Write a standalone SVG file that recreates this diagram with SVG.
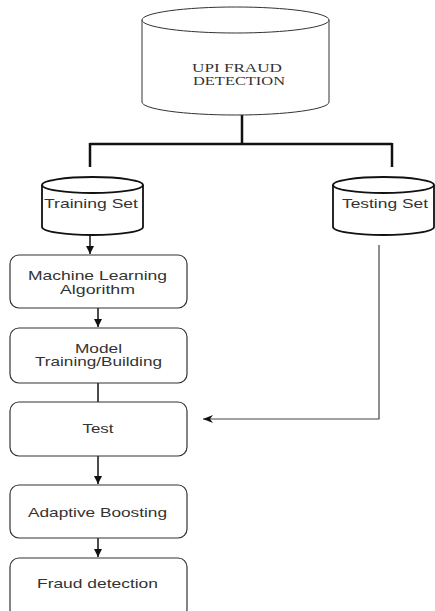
<svg xmlns="http://www.w3.org/2000/svg" width="435" height="611" viewBox="0 0 435 611">
<defs>
<style>
.box{fill:#fff;stroke:#333;stroke-width:1.2}
.cyl{fill:#fff;stroke:#111;stroke-width:1.8}
.cylTop{fill:#fff;stroke:#333;stroke-width:1}
.t{font-family:"Liberation Sans",Arial,sans-serif;font-size:13px;fill:#333;text-anchor:middle}
.s{font-family:"Liberation Serif","Times New Roman",serif;font-size:11.5px;fill:#333;text-anchor:middle}
.thick{fill:none;stroke:#111;stroke-width:2.5}
.arr{fill:none;stroke:#111;stroke-width:1.5}
.thin{fill:none;stroke:#444;stroke-width:1.2}
</style>
<marker id="ah" markerWidth="10" markerHeight="10" refX="8" refY="4" orient="auto" markerUnits="userSpaceOnUse">
<path d="M0,0 L8,4 L0,8 Z" fill="#111"/>
</marker>
<marker id="ah2" markerWidth="12" markerHeight="10" refX="10" refY="4" orient="auto" markerUnits="userSpaceOnUse">
<path d="M0,0 L10,4 L0,8 L3,4 Z" fill="#111"/>
</marker>
</defs>
<rect width="435" height="611" fill="#fff"/>
<g id="connectors">
<path class="thick" d="M242,115 V144 M90,144 H392 M90,143 V167 M392,143 V167"/>
<path class="arr" d="M90,235 V254" marker-end="url(#ah)"/>
<path class="arr" d="M98,308 V327" marker-end="url(#ah)"/>
<path class="arr" d="M98,383 V402"/>
<path class="arr" d="M98,456 V484" marker-end="url(#ah)"/>
<path class="arr" d="M98,538 V557" marker-end="url(#ah)"/>
<path class="thin" d="M379,245 V419 H203" marker-end="url(#ah2)"/>
</g>
<g id="upi">
<path class="cylTop" d="M142,20 A93.5,13 0 0,1 329,20 L329,102 A93.5,13 0 0,1 142,102 Z"/>
<path class="cylTop" d="M142,20 A93.5,13 0 0,0 329,20"/>
<text class="s" x="237" y="71.5" textLength="90" lengthAdjust="spacingAndGlyphs">UPI FRAUD</text>
<text class="s" x="239" y="84.5" textLength="92" lengthAdjust="spacingAndGlyphs">DETECTION</text>
</g>
<g id="training">
<path class="cyl" d="M42,185 A50.5,8 0 0,1 143,185 L143,227 A50.5,8 0 0,1 42,227 Z"/>
<path class="cyl" d="M42,185 A50.5,8 0 0,0 143,185"/>
<text class="t" x="91" y="207.5" textLength="94" lengthAdjust="spacingAndGlyphs">Training Set</text>
</g>
<g id="testing">
<path class="cyl" d="M333,185 A50.5,8 0 0,1 434,185 L434,227 A50.5,8 0 0,1 333,227 Z"/>
<path class="cyl" d="M333,185 A50.5,8 0 0,0 434,185"/>
<text class="t" x="385" y="207.5" textLength="86" lengthAdjust="spacingAndGlyphs">Testing Set</text>
</g>
<g id="ml">
<rect class="box" x="10" y="255" width="177" height="53" rx="9"/>
<text class="t" x="97.5" y="280" textLength="139" lengthAdjust="spacingAndGlyphs">Machine Learning</text>
<text class="t" x="97.5" y="294" textLength="75" lengthAdjust="spacingAndGlyphs">Algorithm</text>
</g>
<g id="model">
<rect class="box" x="10" y="328" width="177" height="55" rx="9"/>
<text class="t" x="98.5" y="352.5" textLength="47" lengthAdjust="spacingAndGlyphs">Model</text>
<text class="t" x="98.5" y="366" textLength="127" lengthAdjust="spacingAndGlyphs">Training/Building</text>
</g>
<g id="test">
<rect class="box" x="10" y="402" width="177" height="54" rx="9"/>
<text class="t" x="98" y="432.5" textLength="31" lengthAdjust="spacingAndGlyphs">Test</text>
</g>
<g id="adaptive">
<rect class="box" x="10" y="485" width="177" height="53" rx="9"/>
<text class="t" x="97.5" y="516.5" textLength="139" lengthAdjust="spacingAndGlyphs">Adaptive Boosting</text>
</g>
<g id="fraud">
<rect class="box" x="10" y="558" width="177" height="60" rx="9"/>
<text class="t" x="97.5" y="587.5" textLength="121" lengthAdjust="spacingAndGlyphs">Fraud detection</text>
</g>
</svg>
